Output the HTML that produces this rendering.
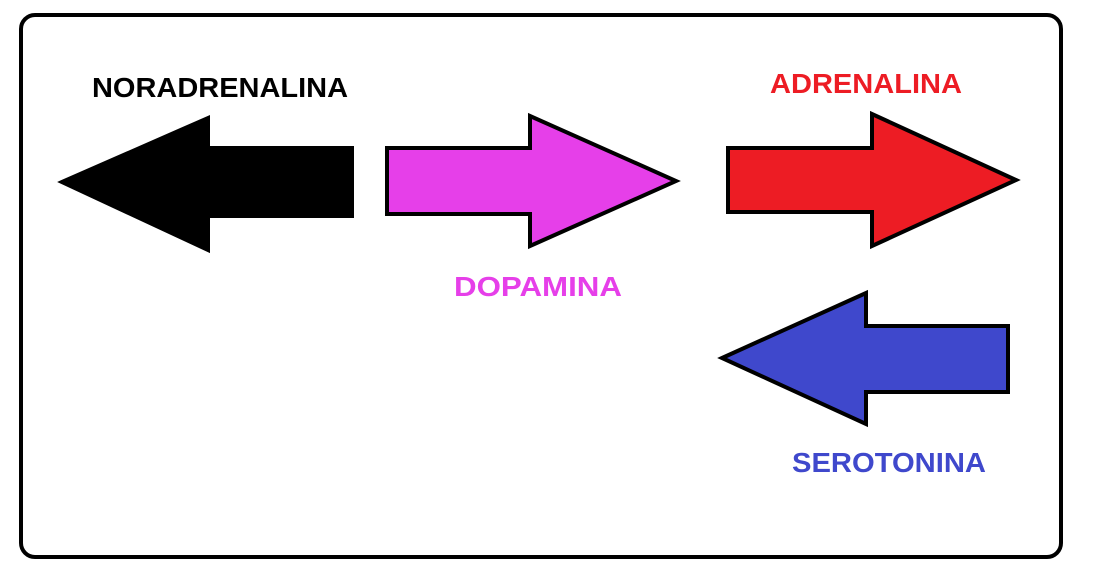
<!DOCTYPE html>
<html><head><meta charset="utf-8"><style>
html,body{margin:0;padding:0;background:#fff;width:1106px;height:580px;overflow:hidden}
svg{display:block}
text{font-family:"Liberation Sans",sans-serif;font-weight:bold;font-size:28px}
</style></head><body>
<svg width="1106" height="580" viewBox="0 0 1106 580">
<rect x="21" y="15" width="1040" height="542" rx="14" ry="14" fill="#fff" stroke="#000" stroke-width="4"/>
<polygon points="62,182 208,118 208,148 352,148 352,216 208,216 208,250" fill="#000" stroke="#000" stroke-width="4" stroke-linejoin="miter"/>
<polygon points="387,148 530,148 530,116 676,181 530,246 530,214 387,214" fill="#e63fe9" stroke="#000" stroke-width="4"/>
<polygon points="728,148 872,148 872,114 1016,180 872,246 872,212 728,212" fill="#ed1c24" stroke="#000" stroke-width="4"/>
<polygon points="722,358 866,293 866,326 1008,326 1008,392 866,392 866,424" fill="#3f48cc" stroke="#000" stroke-width="4"/>
<text x="92" y="97" textLength="256" lengthAdjust="spacingAndGlyphs" fill="#000">NORADRENALINA</text>
<text x="770" y="93" textLength="192" lengthAdjust="spacingAndGlyphs" fill="#ed1c24">ADRENALINA</text>
<text x="454" y="296" textLength="168" lengthAdjust="spacingAndGlyphs" fill="#e63fe9">DOPAMINA</text>
<text x="792" y="472" textLength="194" lengthAdjust="spacingAndGlyphs" fill="#3f48cc">SEROTONINA</text>
</svg>
</body></html>
